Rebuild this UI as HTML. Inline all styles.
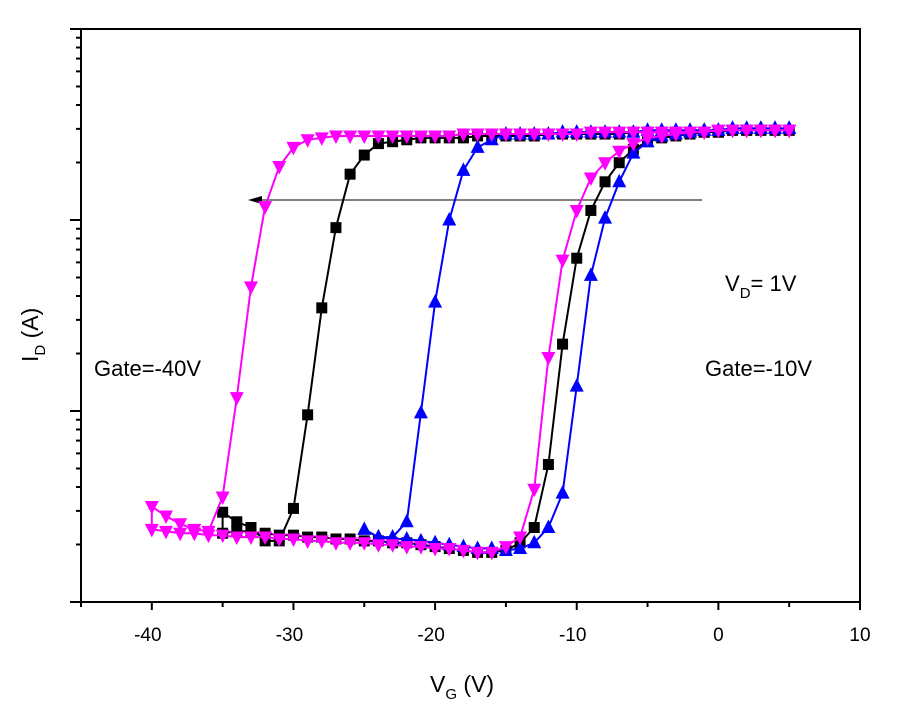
<!DOCTYPE html>
<html><head><meta charset="utf-8"><style>
html,body{margin:0;padding:0;background:#fff;}
svg{display:block;font-family:"Liberation Sans",Arial,sans-serif;}
</style></head><body>
<svg id="chart" width="900" height="707" viewBox="0 0 900 707"></svg>
<script>
const xTicks=[-40,-30,-20,-10,0,10];
const xMinor=[-45,-35,-25,-15,-5,5];
const yDecades=[-10,-9,-8,-7];
const blackV=[5,4,3,2,1,0,-1,-2,-3,-4,-5,-6,-7,-8,-9,-10,-11,-12,-13,-14,-15,-16,-17,-18,-19,-20,-21,-22,-23,-24,-25,-26,-27,-28,-29,-30,-31,-32,-33,-34,-35,
 -35,-34,-33,-32,-31,-30,-29,-28,-27,-26,-25,-24,-23,-22,-21,-20,-19,-18,-17,-16,-15,-14,-13,-12,-11,-10,-9,-8,-7,-6,-5,-4,-3,-2,-1,0,1,2,3,4,5];
const blackI=[-7.53,-7.53,-7.53,-7.53,-7.53,-7.54,-7.54,-7.54,-7.54,-7.54,-7.54,-7.54,-7.55,-7.55,-7.55,-7.55,-7.55,-7.55,-7.56,-7.56,-7.56,-7.56,-7.56,-7.57,-7.57,-7.57,-7.57,-7.58,-7.59,-7.60,-7.66,-7.76,-8.04,-8.46,-9.02,-9.51,-9.68,-9.68,-9.61,-9.58,-9.53,
 -9.64,-9.63,-9.63,-9.64,-9.65,-9.65,-9.66,-9.66,-9.67,-9.67,-9.68,-9.68,-9.69,-9.69,-9.70,-9.71,-9.72,-9.73,-9.74,-9.74,-9.73,-9.69,-9.61,-9.28,-8.65,-8.20,-7.95,-7.80,-7.70,-7.63,-7.59,-7.57,-7.56,-7.55,-7.54,-7.54,-7.53,-7.53,-7.53,-7.53,-7.53];
const blueV=[5,4,3,2,1,0,-1,-2,-3,-4,-5,-6,-7,-8,-9,-10,-11,-12,-13,-14,-15,-16,-17,-18,-19,-20,-21,-22,-23,-24,-25,
 -24,-23,-22,-21,-20,-19,-18,-17,-16,-15,-14,-13,-12,-11,-10,-9,-8,-7,-6,-5,-4,-3,-2,-1,0,1,2,3,4,5];
const blueI=[-7.52,-7.52,-7.52,-7.52,-7.52,-7.53,-7.53,-7.53,-7.53,-7.53,-7.53,-7.54,-7.54,-7.54,-7.54,-7.54,-7.54,-7.55,-7.55,-7.55,-7.55,-7.58,-7.62,-7.74,-8.00,-8.43,-9.01,-9.58,-9.66,-9.66,-9.62,
 -9.66,-9.67,-9.67,-9.68,-9.69,-9.70,-9.71,-9.72,-9.72,-9.73,-9.72,-9.69,-9.61,-9.43,-8.87,-8.29,-7.99,-7.80,-7.65,-7.59,-7.56,-7.55,-7.54,-7.53,-7.53,-7.52,-7.52,-7.52,-7.52,-7.52];
const magV=[5,4,3,2,1,0,-1,-2,-3,-4,-5,-6,-7,-8,-9,-10,-11,-12,-13,-14,-15,-16,-17,-18,-19,-20,-21,-22,-23,-24,-25,-26,-27,-28,-29,-30,-31,-32,-33,-34,-35,-36,-37,-38,-39,-40,
 -40,-39,-38,-37,-36,-35,-34,-33,-32,-31,-30,-29,-28,-27,-26,-25,-24,-23,-22,-21,-20,-19,-18,-17,-16,-15,-14,-13,-12,-11,-10,-9,-8,-7,-6,-5,-4,-3,-2,-1,0,1,2,3,4,5];
const magI=[-7.53,-7.53,-7.53,-7.53,-7.53,-7.53,-7.54,-7.54,-7.54,-7.54,-7.54,-7.54,-7.54,-7.54,-7.54,-7.55,-7.55,-7.55,-7.55,-7.55,-7.55,-7.55,-7.55,-7.55,-7.56,-7.56,-7.56,-7.56,-7.56,-7.56,-7.56,-7.56,-7.56,-7.57,-7.58,-7.62,-7.72,-7.93,-8.35,-8.93,-9.45,-9.63,-9.62,-9.59,-9.55,-9.50,
 -9.62,-9.63,-9.64,-9.64,-9.65,-9.65,-9.66,-9.66,-9.66,-9.67,-9.67,-9.68,-9.68,-9.69,-9.69,-9.69,-9.70,-9.70,-9.71,-9.71,-9.72,-9.72,-9.73,-9.74,-9.74,-9.71,-9.66,-9.41,-8.72,-8.21,-7.95,-7.78,-7.70,-7.64,-7.60,-7.57,-7.56,-7.55,-7.54,-7.54,-7.53,-7.53,-7.53,-7.53,-7.53,-7.53];

const NS='http://www.w3.org/2000/svg';
const svg=document.getElementById('chart');
const L=81,R=860,T=29,B=602;
const X0=-45,X1=10,Y0=-10,Y1=-7;
function sx(v){return L+(v-X0)/(X1-X0)*(R-L);}
function sy(v){return B-(v-Y0)/(Y1-Y0)*(B-T);}
function mk(tag,attrs,parent){const e=document.createElementNS(NS,tag);for(const k in attrs)e.setAttribute(k,attrs[k]);(parent||svg).appendChild(e);return e;}

const frame=mk('rect',{x:L,y:T,width:R-L,height:B-T,fill:'none',stroke:'#000','stroke-width':2});



xTicks.forEach(t=>{
  const ln=mk('line',{x1:sx(t),x2:sx(t),y1:B,y2:B+8,stroke:'#000','stroke-width':2});
  
  
  const tx=mk('text',{x:sx(t)-(t<0?4:0),y:641,'text-anchor':'middle','font-size':19,fill:'#000'});
  tx.textContent=t;
  
  
});
xMinor.forEach(t=>{
  const ln=mk('line',{x1:sx(t),x2:sx(t),y1:B,y2:B+5,stroke:'#000','stroke-width':2});
  
  
});
yDecades.forEach(d=>{
  const ln=mk('line',{x1:L-11,x2:L,y1:sy(d),y2:sy(d),stroke:'#000','stroke-width':2});
  
  
  if(d<Y1){for(let m=2;m<=9;m++){
    const yy=sy(d+Math.log10(m));
    const mn=mk('line',{x1:L-5,x2:L,y1:yy,y2:yy,stroke:'#000','stroke-width':2});
    
    
  }}
});

const ar=mk('line',{x1:702,x2:258,y1:200,y2:200,stroke:'#000','stroke-width':1});


const ah=mk('polygon',{points:'248,200 262,196 262,204',fill:'#000'});



function series(V,I,color,shape,name){
  const g=mk('g',{});
  
  
  const pts=V.map((v,i)=>sx(v).toFixed(1)+','+sy(I[i]).toFixed(1)).join(' ');
  const pl=mk('polyline',{points:pts,fill:'none',stroke:color,'stroke-width':2},g);
  
  
  V.forEach((v,i)=>{
    const x=sx(v),y=sy(I[i]);let m;
    if(shape==='sq')m=mk('rect',{x:x-5.5,y:y-5.5,width:11,height:11,fill:color},g);
    else if(shape==='up')m=mk('polygon',{points:`${x},${y-8} ${x-7},${y+5.5} ${x+7},${y+5.5}`,fill:color},g);
    else m=mk('polygon',{points:`${x},${y+8} ${x-7},${y-5.5} ${x+7},${y-5.5}`,fill:color},g);
    
    
  });
}
series(blackV,blackI,'#000','sq','series-black');
series(blueV,blueI,'#0000ff','up','series-blue');
series(magV,magI,'#ff00ff','down','series-magenta');

function label(x,y,html,name,extra){
  const t=mk('text',Object.assign({x:x,y:y,'font-size':22,fill:'#000'},extra||{}));
  t.innerHTML=html;
  
  
  return t;
}
label(725,291,'V<tspan font-size="15" dy="7">D</tspan><tspan dy="-7">= 1V</tspan>','vd-annotation');
label(705,376,'Gate=-10V','gate-10v-label');
label(94,376,'Gate=-40V','gate-40v-label');
label(430,692,'V<tspan font-size="15" dy="7">G</tspan><tspan dy="-7"> (V)</tspan>','x-axis-title',{'font-size':23});
label(38,362,'I<tspan font-size="15" dy="7">D</tspan><tspan dy="-7"> (A)</tspan>','y-axis-title',{transform:'rotate(-90 38 362)','font-size':23});
</script>
</body></html>
